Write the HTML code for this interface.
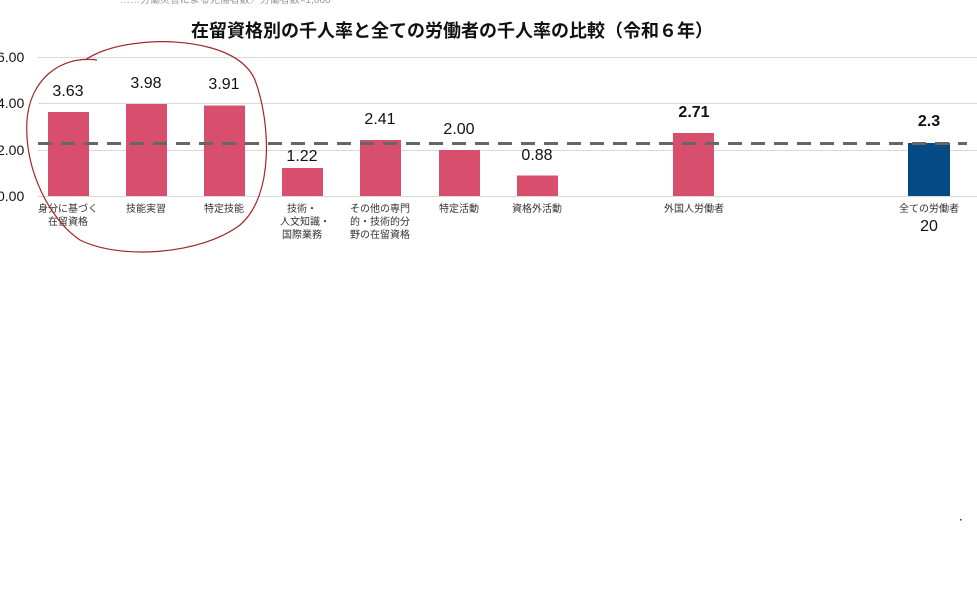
<!DOCTYPE html>
<html><head><meta charset="utf-8"><style>
body{margin:0;background:#fff;width:977px;height:614px;overflow:hidden}
svg{display:block}
text{font-family:"Liberation Sans","Noto Sans CJK JP",sans-serif}
</style></head><body>
<svg width="977" height="614" viewBox="0 0 977 614">
<text x="120" y="3" font-size="10" fill="#999">……労働災害による死傷者数／労働者数×1,000</text>
<text x="452" y="37" font-size="18" font-weight="bold" text-anchor="middle" fill="#111">在留資格別の千人率と全ての労働者の千人率の比較（令和６年）</text>
<g stroke="#d9d9d9" stroke-width="1">
<line x1="38" y1="57.5" x2="977" y2="57.5"/>
<line x1="38" y1="103.5" x2="977" y2="103.5"/>
<line x1="38" y1="150.5" x2="977" y2="150.5"/>
<line x1="38" y1="196.5" x2="977" y2="196.5"/>
</g>
<g font-size="14" fill="#111">
<text x="-3" y="62">6.00</text>
<text x="-3" y="108">4.00</text>
<text x="-3" y="155">2.00</text>
<text x="-3" y="201">0.00</text>
</g>
<g fill="#d84f6d">
<rect x="48" y="112" width="41" height="84"/>
<rect x="126" y="104" width="41" height="92"/>
<rect x="204" y="105.5" width="41" height="90.5"/>
<rect x="282" y="168" width="41" height="28"/>
<rect x="360" y="140" width="41" height="56"/>
<rect x="439" y="150" width="41" height="46"/>
<rect x="517" y="175.5" width="41" height="20.5"/>
<rect x="673" y="133" width="41" height="63"/>
</g>
<rect x="908" y="143" width="42" height="53" fill="#044a85"/>
<line x1="38" y1="143.5" x2="967" y2="143.5" stroke="#666" stroke-width="3" stroke-dasharray="14,9"/>
<g font-size="16" fill="#111" text-anchor="middle">
<text x="68" y="96">3.63</text>
<text x="146" y="88">3.98</text>
<text x="224" y="89">3.91</text>
<text x="302" y="161">1.22</text>
<text x="380" y="124">2.41</text>
<text x="459" y="134">2.00</text>
<text x="537" y="160">0.88</text>
<text x="694" y="117" font-weight="bold">2.71</text>
<text x="929" y="126" font-weight="bold">2.3</text>
<text x="929" y="231">20</text>
</g>
<g font-size="10" fill="#333" text-anchor="middle">
<text x="68" y="212">身分に基づく</text><text x="68" y="225">在留資格</text>
<text x="146" y="212">技能実習</text>
<text x="224" y="212">特定技能</text>
<text x="302" y="212">技術・</text><text x="305" y="225">人文知識・</text><text x="302" y="238">国際業務</text>
<text x="380" y="212">その他の専門</text><text x="380" y="225">的・技術的分</text><text x="380" y="238">野の在留資格</text>
<text x="459" y="212">特定活動</text>
<text x="537" y="212">資格外活動</text>
<text x="694" y="212">外国人労働者</text>
<text x="929" y="212">全ての労働者</text>
</g>
<path d="M97,60 C60,55 30,80 27,120 C24,170 50,220 80,240 C120,260 200,255 240,225 C275,195 270,120 255,80 C240,45 180,40 150,42 C120,44 100,50 85,60" fill="none" stroke="#a0262a" stroke-width="1.2"/>
<rect x="960" y="519" width="1.5" height="1.5" fill="#333"/>
</svg>
</body></html>
